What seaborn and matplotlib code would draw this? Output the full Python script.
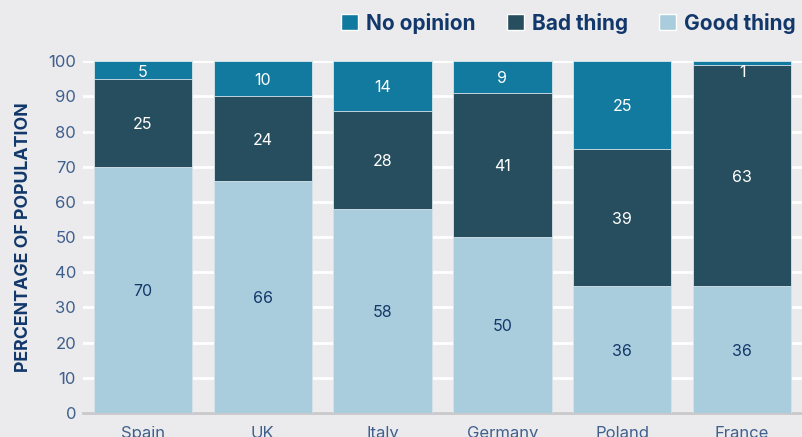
import matplotlib
matplotlib.use("Agg")
import matplotlib.pyplot as plt
import seaborn as sns
import numpy as np
import pandas as pd
from matplotlib.patches import Patch

countries = ["Spain", "UK", "Italy", "Germany", "Poland", "France"]
good_thing = [70, 66, 58, 50, 36, 36]
bad_thing = [25, 24, 28, 41, 39, 63]
no_opinion = [5, 10, 14, 9, 25, 1]
yticks = [0, 10, 20, 30, 40, 50, 60, 70, 80, 90, 100]

c_no = "#137a9f"
c_bad = "#274e5e"
c_good = "#a9cddc"
bg = "#ebebed"
tick_col = "#3f5f8c"
navy = "#12386b"

sns.set_theme(style="white")
plt.rcParams["font.family"] = ["Inter", "DejaVu Sans"]

fig = plt.figure(figsize=(8.02, 4.37), dpi=100, facecolor=bg)
ax = fig.add_axes([0.1035, 0.0549, 0.8965, 0.8048])
ax.set_facecolor(bg)

df = pd.DataFrame({"country": countries, "good": good_thing,
                   "bad": bad_thing, "no": no_opinion})
df["gb"] = df["good"] + df["bad"]
df["total"] = df["gb"] + df["no"]

kw = dict(width=0.82, edgecolor="#d9e6ec", linewidth=0.6, zorder=3)
sns.barplot(data=df, x="country", y="total", color=c_no, saturation=1, ax=ax, **kw)
sns.barplot(data=df, x="country", y="gb", color=c_bad, saturation=1, ax=ax, **kw)
sns.barplot(data=df, x="country", y="good", color=c_good, saturation=1, ax=ax, **kw)

for i, row in df.iterrows():
    ax.text(i, row["good"] / 2, f"{row['good']}", ha="center", va="center_baseline",
            color=navy, fontsize=11.5, zorder=5)
    ax.text(i, row["good"] + row["bad"] / 2, f"{row['bad']}", ha="center",
            va="center_baseline", color="white", fontsize=11.5, zorder=5)
    y_no = min(row["gb"] + row["no"] / 2, 97.2)
    ax.text(i, y_no, f"{row['no']}", ha="center", va="center_baseline",
            color="white", fontsize=11.5, zorder=5)

ax.set_xlim(-0.5, 5.5)
ax.set_ylim(0, 100)
ax.set_yticks(yticks)
ax.set_yticklabels([str(t) for t in yticks])
ax.yaxis.grid(True, color="white", linewidth=2, zorder=0)
ax.set_axisbelow(True)
for s in ["top", "right", "left"]:
    ax.spines[s].set_visible(False)
ax.spines["bottom"].set_color("#c9c9cc")
ax.spines["bottom"].set_linewidth(2)
ax.tick_params(axis="both", length=0, colors=tick_col, labelsize=12)
ax.tick_params(axis="y", pad=5)
ax.tick_params(axis="x", pad=9)
ax.set_xlabel("")
ax.set_ylabel("PERCENTAGE OF POPULATION", color=navy, fontsize=12.8,
              fontweight="bold", labelpad=12)

handles = [Patch(facecolor=c_no, label="No opinion"),
           Patch(facecolor=c_bad, label="Bad thing"),
           Patch(facecolor=c_good, label="Good thing")]
leg = fig.legend(handles=handles, loc="upper left", bbox_to_anchor=(0.402, 1.014),
                 ncol=3, frameon=False, handlelength=0.8,
                 handleheight=0.8, handletextpad=0.4, columnspacing=1.5,
                 prop={"weight": "bold", "size": 15})
for t in leg.get_texts():
    t.set_color(navy)

fig.savefig("out.png", dpi=100, facecolor=bg)
